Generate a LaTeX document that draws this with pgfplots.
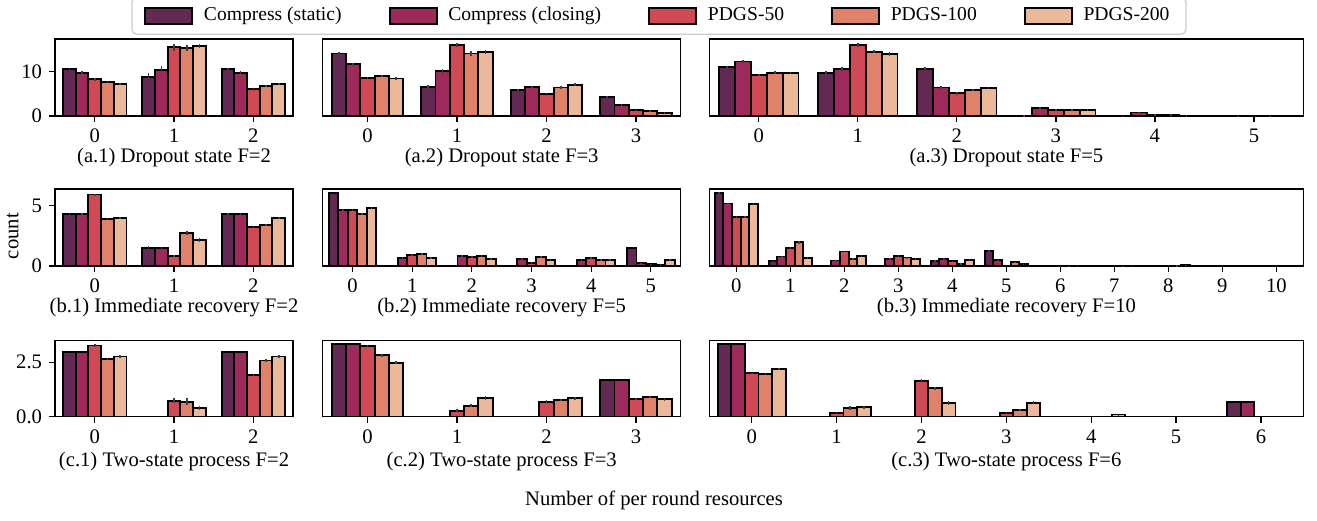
\documentclass[border=0pt]{standalone}
\usepackage{fontspec}
\setmainfont{Liberation Serif}
\usepackage{pgfplots}
\usepackage{pgfplotstable}
\pgfplotsset{compat=1.18}

\definecolor{cA}{HTML}{622A52}
\definecolor{cB}{HTML}{9E2A5C}
\definecolor{cC}{HTML}{CF4A55}
\definecolor{cD}{HTML}{E0826A}
\definecolor{cE}{HTML}{EBB89A}
\definecolor{errc}{HTML}{3F3F3F}
\definecolor{legframe}{HTML}{CCCCCC}

% columns: x, Compress(static) a, Compress(closing) b, PDGS-50 c, PDGS-100 d, PDGS-200 e ; e* = error
\pgfplotstableread{
x a ea b eb c ec d ed e ee
0 10.5 0.25 9.7 0.3 8.2 0.3 7.7 0.25 7.2 0.2
1 8.8 0.8 10.4 0.7 15.4 0.8 15.3 0.7 15.7 0.5
2 10.5 0.25 9.7 0.3 6.0 0.35 6.8 0.25 7.2 0.2
}\tAone
\pgfplotstableread{
x a ea b eb c ec d ed e ee
0 14.0 0.3 11.6 0.35 8.6 0.25 9.0 0.3 8.4 0.3
1 6.6 0.4 10.0 0.5 15.9 0.4 14.0 0.5 14.3 0.4
2 5.8 0.3 6.6 0.2 4.9 0.3 6.4 0.3 7.0 0.3
3 4.25 0.3 2.5 0.25 1.3 0.15 1.2 0.15 0.75 0.15
}\tAtwo
\pgfplotstableread{
x a ea b eb c ec d ed e ee
0 11.0 0.3 12.2 0.4 9.2 0.3 9.7 0.3 9.65 0.3
1 9.7 0.4 10.5 0.5 15.9 0.4 14.4 0.4 13.9 0.5
2 10.6 0.3 6.4 0.3 5.1 0.3 5.8 0.3 6.3 0.3
3 0.1 0.05 1.8 0.2 1.3 0.2 1.3 0.2 1.4 0.2
4 0.05 0.03 0.8 0.15 0.35 0.1 0.3 0.1 0.1 0.05
5 nan 0 0.05 0.03 nan 0 0.03 0.02 nan 0
}\tAthree
\pgfplotstableread{
x a ea b eb c ec d ed e ee
0 4.28 0.08 4.31 0.06 5.91 0.06 3.9 0.08 3.95 0.07
1 1.52 0.15 1.46 0.15 0.83 0.12 2.71 0.15 2.15 0.2
2 4.31 0.06 4.31 0.06 3.26 0.07 3.37 0.07 3.95 0.07
}\tBone
\pgfplotstableread{
x a ea b eb c ec d ed e ee
0 6.02 0 4.64 0.07 4.64 0.07 4.31 0.08 4.83 0.08
1 nan 0 0.69 0.08 0.91 0.1 0.99 0.12 0.69 0.08
2 nan 0 0.83 0.08 0.77 0.08 0.83 0.1 0.55 0.08
3 nan 0 0.61 0.08 0.28 0.06 0.72 0.08 0.5 0.07
4 nan 0 0.5 0.07 0.64 0.08 0.5 0.07 0.5 0.07
5 1.46 0 0.22 0.04 0.14 0.03 0.11 0.03 0.5 0.06
}\tBtwo
\pgfplotstableread{
x a ea b eb c ec d ed e ee
0 6.03 0.05 5.17 0.06 4.05 0.06 4.08 0.06 5.11 0.07
1 0.39 0.05 0.78 0.08 1.51 0.1 1.96 0.1 0.67 0.08
2 nan 0 0.45 0.06 1.2 0.08 0.61 0.06 0.81 0.08
3 nan 0 0.61 0.06 0.84 0.07 0.7 0.07 0.59 0.07
4 0.42 0.05 0.61 0.06 0.39 0.05 0.2 0.04 0.53 0.06
5 1.26 0.06 0.47 0.05 nan 0 0.3 0.05 0.14 0.03
6 nan 0 nan 0 0.02 0.01 0.03 0.01 0.03 0.01
7 nan 0 nan 0 nan 0 0.02 0.01 0.02 0.01
8 nan 0 nan 0 nan 0 0.04 0.02 0.05 0.02
9 nan 0 nan 0 nan 0 nan 0 nan 0
10 nan 0 nan 0 nan 0 nan 0 nan 0
}\tBthree
\pgfplotstableread{
x a ea b eb c ec d ed e ee
0 2.95 0 2.95 0 3.27 0.06 2.64 0.06 2.76 0.05
1 nan 0 nan 0 0.74 0.1 0.69 0.15 0.41 0.1
2 2.95 0 2.95 0 1.93 0.04 2.58 0.06 2.76 0.05
}\tCone
\pgfplotstableread{
x a ea b eb c ec d ed e ee
0 3.34 0 3.34 0 3.25 0.05 2.82 0.06 2.48 0.07
1 nan 0 nan 0 0.28 0.08 0.51 0.08 0.86 0.08
2 nan 0 nan 0 0.69 0.06 0.77 0.04 0.84 0.06
3 1.69 0 1.69 0 0.8 0.04 0.89 0.04 0.8 0.07
}\tCtwo
\pgfplotstableread{
x a ea b eb c ec d ed e ee
0 3.34 0 3.34 0 1.99 0.02 1.96 0.03 2.2 0.05
1 nan 0 nan 0 0.17 0.05 0.40 0.08 0.44 0.07
2 nan 0 nan 0 1.65 0.06 1.3 0.07 0.64 0.08
3 nan 0 nan 0 0.17 0.04 0.31 0.05 0.64 0.07
4 nan 0 nan 0 nan 0 nan 0 0.1 0.04
5 nan 0 nan 0 nan 0 nan 0 nan 0
6 0.66 0 0.66 0 nan 0 nan 0 nan 0
}\tCthree

\pgfplotsset{
  panel/.style={
    scale only axis, anchor=south west, ymin=0,
    enlargelimits=false,
    tick align=outside, xtick pos=left, ytick pos=left,
    major tick length=2.8pt,
    tick style={black, line width=0.6pt},
    axis line style={line width=0.7pt},
    tick label style={font=\fontsize{10}{12}\selectfont},
    /pgf/number format/assume math mode=true,
    label style={font=\fontsize{10}{12}\selectfont},
    xlabel style={at={(axis description cs:0.5,0)}, anchor=center},
  },
  bars/.style={ybar, bar width=0.16, draw=black, line width=0.9pt,
    legend image code/.code={\path[draw=none, fill=none] (0pt,0pt) -- (26.5pt,0pt);
      \draw[##1, sharp corners] (0pt,-3.9pt) rectangle (22.8pt,3.9pt);}},
  errs/.style={draw=none, mark=none, forget plot,
    error bars/y dir=both, error bars/y explicit, error bars/error mark=none,
    error bars/error bar style={solid, draw=errc, line width=0.8pt}},
}

\newcommand{\fivebars}[1]{%
  \addplot[bars, fill=cA, bar shift=-0.32] table[x=x, y=a]{#1};
  \addplot[bars, fill=cB, bar shift=-0.16] table[x=x, y=b]{#1};
  \addplot[bars, fill=cC, bar shift=0] table[x=x, y=c]{#1};
  \addplot[bars, fill=cD, bar shift=0.16] table[x=x, y=d]{#1};
  \addplot[bars, fill=cE, bar shift=0.32] table[x=x, y=e]{#1};
  \addplot[errs] table[x expr=\thisrow{x}-0.32, y=a, y error=ea]{#1};
  \addplot[errs] table[x expr=\thisrow{x}-0.16, y=b, y error=eb]{#1};
  \addplot[errs] table[x expr=\thisrow{x}, y=c, y error=ec]{#1};
  \addplot[errs] table[x expr=\thisrow{x}+0.16, y=d, y error=ed]{#1};
  \addplot[errs] table[x expr=\thisrow{x}+0.32, y=e, y error=ee]{#1};
}

\begin{document}
\begin{tikzpicture}
\useasboundingbox (0,0) rectangle (638.7pt,252.2pt);
% ---------- row a ----------
\begin{axis}[panel, at={(26.7pt,195.9pt)}, width=115.4pt, height=37.3pt,
  xmin=-0.5, xmax=2.5, xtick={0,1,2}, ymax=17.2, ytick={0,10},
  xlabel={(a.1) Dropout state F=2}, xlabel style={yshift=-20.3pt},
  legend columns=5,
  legend style={at={(2.538,1.055)}, anchor=south, draw=legframe, line width=0.6pt,
    rounded corners=2.5pt, font=\fontsize{9.5}{11}\selectfont,
    inner xsep=6pt, inner ysep=3pt,
    /tikz/every even column/.append style={column sep=20.8pt}}]
\fivebars{\tAone}
\legend{Compress (static), Compress (closing), PDGS-50, PDGS-100, PDGS-200}
\end{axis}
\begin{axis}[panel, at={(156.5pt,195.9pt)}, width=173.6pt, height=37.3pt,
  xmin=-0.5, xmax=3.5, xtick={0,1,2,3}, ymax=17.2, ytick=\empty,
  xlabel={(a.2) Dropout state F=3}, xlabel style={yshift=-20.3pt}]
\fivebars{\tAtwo}
\end{axis}
\begin{axis}[panel, at={(344.0pt,195.9pt)}, width=288.1pt, height=37.3pt,
  xmin=-0.5, xmax=5.5, xtick={0,1,2,3,4,5}, ymax=17.2, ytick=\empty,
  xlabel={(a.3) Dropout state F=5}, xlabel style={yshift=-20.3pt}]
\fivebars{\tAthree}
\end{axis}
% ---------- row b ----------
\begin{axis}[panel, at={(26.7pt,123.2pt)}, width=115.4pt, height=37.3pt,
  xmin=-0.5, xmax=2.5, xtick={0,1,2}, ymax=6.36, ytick={0,5},
  xlabel={(b.1) Immediate recovery F=2}, xlabel style={yshift=-20pt}]
\fivebars{\tBone}
\end{axis}
\begin{axis}[panel, at={(156.5pt,123.2pt)}, width=173.6pt, height=37.3pt,
  xmin=-0.5, xmax=5.5, xtick={0,1,2,3,4,5}, ymax=6.36, ytick=\empty,
  xlabel={(b.2) Immediate recovery F=5}, xlabel style={yshift=-20pt}]
\fivebars{\tBtwo}
\end{axis}
\begin{axis}[panel, at={(344.0pt,123.2pt)}, width=288.1pt, height=37.3pt,
  xmin=-0.5, xmax=10.5, xtick={0,1,2,3,4,5,6,7,8,9,10}, ymax=6.36, ytick=\empty,
  xlabel={(b.3) Immediate recovery F=10}, xlabel style={yshift=-20pt}]
\fivebars{\tBthree}
\end{axis}
% ---------- row c ----------
\begin{axis}[panel, at={(26.7pt,50.1pt)}, width=115.4pt, height=36.9pt,
  xmin=-0.5, xmax=2.5, xtick={0,1,2}, ymax=3.49, ytick={0,2.5},
  yticklabel style={/pgf/number format/.cd, fixed, fixed zerofill, precision=1},
  xlabel={(c.1) Two-state process F=2}, xlabel style={yshift=-21.8pt}]
\fivebars{\tCone}
\end{axis}
\begin{axis}[panel, at={(156.5pt,50.1pt)}, width=173.6pt, height=36.9pt,
  xmin=-0.5, xmax=3.5, xtick={0,1,2,3}, ymax=3.49, ytick=\empty,
  xlabel={(c.2) Two-state process F=3}, xlabel style={yshift=-21.8pt}]
\fivebars{\tCtwo}
\end{axis}
\begin{axis}[panel, at={(344.0pt,50.1pt)}, width=288.1pt, height=36.9pt,
  xmin=-0.5, xmax=6.5, xtick={0,1,2,3,4,5,6}, ymax=3.49, ytick=\empty,
  xlabel={(c.3) Two-state process F=6}, xlabel style={yshift=-21.8pt}]
\fivebars{\tCthree}
\end{axis}
\node[rotate=90, font=\fontsize{10}{12}\selectfont] at (6.1pt,137.7pt) {count};
\node[font=\fontsize{10}{12}\selectfont] at (317.2pt,9.7pt) {Number of per round resources};
\end{tikzpicture}
\end{document}
